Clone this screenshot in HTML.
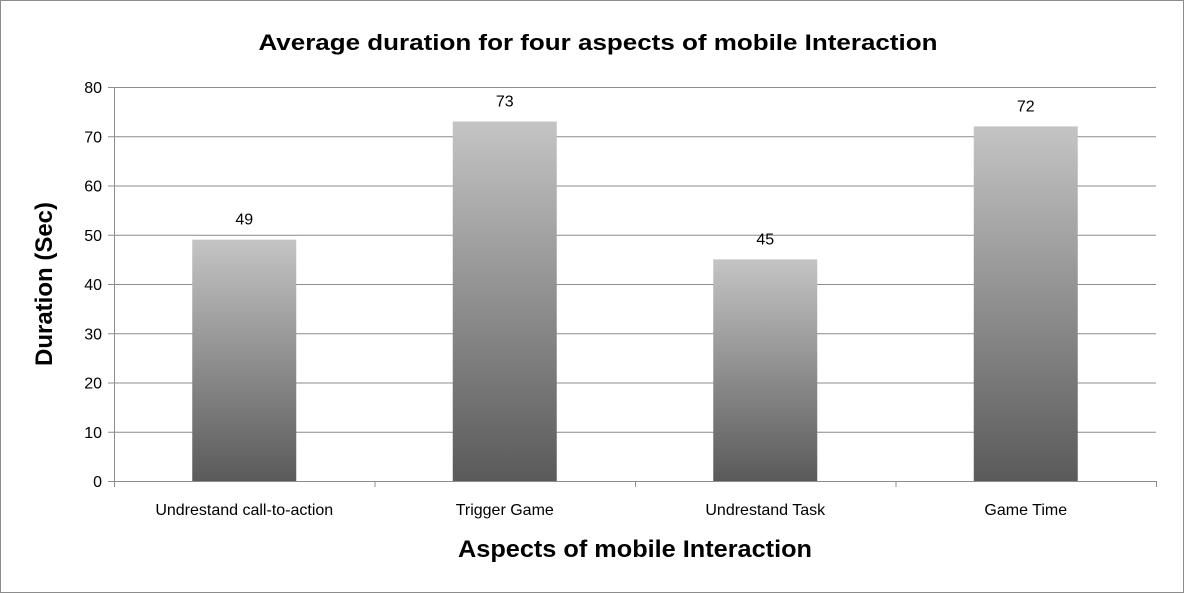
<!DOCTYPE html>
<html><head><meta charset="utf-8"><style>
body{margin:0;background:#fff;}
svg{display:block;font-family:"Liberation Sans",sans-serif;}
</style></head><body>
<svg id="c" width="1184" height="593">
<defs><linearGradient id="g" x1="0" y1="0" x2="0" y2="1"><stop offset="0" stop-color="#c4c4c4"/><stop offset="1" stop-color="#5a5a5a"/></linearGradient></defs>
<rect x="0.5" y="0.5" width="1183" height="592" fill="#fff" stroke="#8c8c8c"/>
<text x="598" y="50" text-anchor="middle" font-size="22" font-weight="bold" textLength="679" lengthAdjust="spacingAndGlyphs">Average duration for four aspects of mobile Interaction</text>
<text x="635" y="557" text-anchor="middle" font-size="24" font-weight="bold" textLength="354" lengthAdjust="spacingAndGlyphs">Aspects of mobile Interaction</text>
<text transform="translate(52,284) rotate(-90)" text-anchor="middle" font-size="24" font-weight="bold">Duration (Sec)</text>
<g id="grid"></g><g id="bars"></g>
</svg>
<script>
const categories=["Undrestand call-to-action","Trigger Game","Undrestand Task","Game Time"];
const values=[49,73,45,72];
const yTicks=[0,10,20,30,40,50,60,70,80];
const svg=document.getElementById('c'),NS="http://www.w3.org/2000/svg";
const x0=114,x1=1156,yB=481,yT=87,yMax=80;
const y=v=>yB-(v/yMax)*(yB-yT);
const band=(x1-x0)/categories.length;
const grid=document.getElementById('grid'),bars=document.getElementById('bars');
function mk(t,a,p){const e=document.createElementNS(NS,t);for(const k in a)e.setAttribute(k,a[k]);p.appendChild(e);return e;}
yTicks.forEach(v=>{
 const l=mk('line',{x1:x0-6,x2:x1,y1:y(v)+.5,y2:y(v)+.5,stroke:'#8c8c8c','stroke-width':1},grid);
 
 
 const t=mk('text',{x:x0-12,y:y(v)+6,'text-anchor':'end','font-size':16},grid);t.textContent=v;
 
 
});
const ax=mk('line',{x1:x0+.5,x2:x0+.5,y1:yT,y2:yB+6,stroke:'#8c8c8c'},grid);


for(let i=0;i<=categories.length;i++){const t=mk('line',{x1:x0+i*band+.5,x2:x0+i*band+.5,y1:yB,y2:yB+6,stroke:'#8c8c8c'},grid);
 
 }
categories.forEach((c,i)=>{
 const cx=x0+band*(i+.5),w=104;
 const r=mk('rect',{x:cx-w/2,y:y(values[i]),width:w,height:yB-y(values[i]),fill:'url(#g)'},bars);
 
 
 const t=mk('text',{x:cx,y:y(values[i])-15,'text-anchor':'middle','font-size':16},bars);t.textContent=values[i];
 
 
 const cl=mk('text',{x:cx,y:515,'text-anchor':'middle','font-size':16},bars);cl.textContent=c;
 
 
});
</script>
</body></html>
